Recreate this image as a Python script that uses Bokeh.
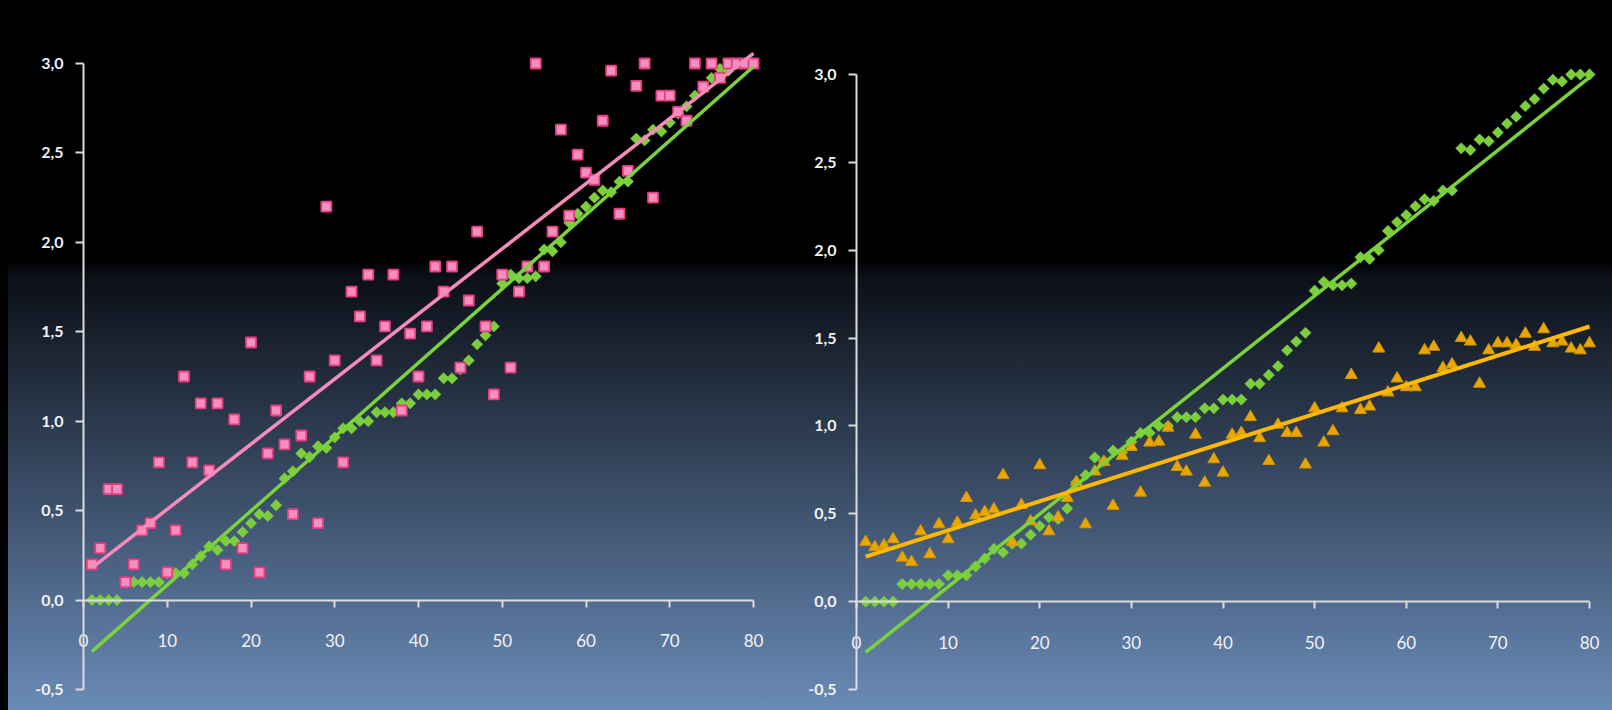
import numpy as np
from bokeh.plotting import figure
from bokeh.layouts import row
from bokeh.models import Range1d, FixedTicker
from bokeh.embed import file_html
from bokeh.resources import INLINE

# ---------------- data ----------------
x_values = list(range(1, 81))

green_values = [
    0.00, 0.00, 0.00, 0.00, 0.10, 0.10, 0.10, 0.10, 0.10, 0.15,
    0.15, 0.15, 0.20, 0.245, 0.30, 0.28, 0.33, 0.33, 0.38, 0.43,
    0.48, 0.47, 0.53, 0.68, 0.72, 0.82, 0.80, 0.86, 0.85, 0.91,
    0.96, 0.96, 1.00, 1.00, 1.05, 1.05, 1.05, 1.10, 1.10, 1.15,
    1.15, 1.15, 1.24, 1.24, 1.29, 1.34, 1.43, 1.48, 1.53, 1.77,
    1.82, 1.80, 1.80, 1.81, 1.96, 1.95, 2.00, 2.11, 2.16, 2.20,
    2.25, 2.29, 2.28, 2.34, 2.34, 2.58, 2.57, 2.63, 2.62, 2.67,
    2.72, 2.76, 2.82, 2.86, 2.92, 2.97, 2.96, 3.00, 3.00, 3.00,
]

pink_values = [
    0.20, 0.29, 0.62, 0.62, 0.10, 0.20, 0.39, 0.43, 0.77, 0.155,
    0.39, 1.25, 0.77, 1.10, 0.725, 1.10, 0.20, 1.01, 0.29, 1.44,
    0.155, 0.82, 1.06, 0.87, 0.48, 0.92, 1.25, 0.43, 2.20, 1.34,
    0.77, 1.725, 1.586, 1.82, 1.34, 1.53, 1.82, 1.06, 1.49, 1.25,
    1.53, 1.865, 1.725, 1.865, 1.30, 1.675, 2.06, 1.53, 1.15, 1.82,
    1.30, 1.725, 1.865, 3.00, 1.865, 2.06, 2.63, 2.15, 2.49, 2.39,
    2.35, 2.68, 2.96, 2.16, 2.40, 2.875, 3.00, 2.25, 2.82, 2.82,
    2.73, 2.68, 3.00, 2.87, 3.00, 2.92, 3.00, 3.00, 3.00, 3.00,
]

orange_values = [
    0.34, 0.31, 0.32, 0.355, 0.25, 0.226, 0.40, 0.27, 0.44, 0.355,
    0.45, 0.59, 0.49, 0.51, 0.525, 0.72, 0.34, 0.55, 0.457, 0.776,
    0.40, 0.48, 0.59, 0.68, 0.44, 0.74, 0.795, 0.545, 0.83, 0.88,
    0.62, 0.905, 0.91, 0.99, 0.766, 0.74, 0.95, 0.677, 0.81, 0.734,
    0.95, 0.96, 1.05, 0.93, 0.80, 1.007, 0.96, 0.96, 0.78, 1.10,
    0.905, 0.97, 1.10, 1.29, 1.09, 1.11, 1.44, 1.19, 1.27, 1.22,
    1.22, 1.43, 1.45, 1.33, 1.35, 1.50, 1.48, 1.24, 1.43, 1.47,
    1.47, 1.46, 1.525, 1.45, 1.55, 1.47, 1.48, 1.44, 1.43, 1.47,
]

x_ticks = [0, 10, 20, 30, 40, 50, 60, 70, 80]
x_tick_labels = ["0", "10", "20", "30", "40", "50", "60", "70", "80"]
y_ticks = [-0.5, 0.0, 0.5, 1.0, 1.5, 2.0, 2.5, 3.0]
y_tick_labels = ["-0,5", "0,0", "0,5", "1,0", "1,5", "2,0", "2,5", "3,0"]

# ---------------- styling ----------------
AXIS_COLOR = "#dcdcdc"
LABEL_COLOR = "#f2f2f2"
PINK_FILL, PINK_LINE, PINK_TREND = "#f68fbf", "#e63d80", "#f48bbb"
GREEN = "#7ccf3c"
GREEN_TREND = "#7ad33a"
ORANGE_FILL, ORANGE_LINE, ORANGE_TREND = "#e8a600", "#d69400", "#ffb800"

FIG_H = 702
FRAME_TOP, FRAME_BOTTOM = 40, 700  # frame edges in page pixels


def trend(xs, ys):
    k, b = np.polyfit(np.asarray(xs, float), np.asarray(ys, float), 1)
    xe = np.array([min(xs), max(xs)], float)
    return xe, k * xe + b


def make_fig(fig_left, fig_width, frame_left, frame_right, x0_px, x80_px, y3_px, ym05_px):
    """Layout: page pixel positions of the frame and of the axis extremes."""
    pxu = (x80_px - x0_px) / 80.0
    pyu = (ym05_px - y3_px) / 3.5
    xr = Range1d(-(x0_px - frame_left) / pxu, 80 + (frame_right - x80_px) / pxu)
    yr = Range1d(-0.5 - (FRAME_BOTTOM - ym05_px) / pyu, 3.0 + (y3_px - FRAME_TOP) / pyu)
    p = figure(
        width=fig_width, height=FIG_H, x_range=xr, y_range=yr,
        output_backend="svg", toolbar_location=None,
        min_border_left=frame_left - fig_left,
        min_border_right=fig_left + fig_width - frame_right,
        min_border_top=FRAME_TOP, min_border_bottom=FIG_H - FRAME_BOTTOM,
    )
    p.border_fill_color = None
    p.background_fill_color = None
    p.outline_line_color = None
    p.grid.visible = False

    xa = p.xaxis[0]
    xa.fixed_location = 0
    xa.bounds = (0, 80)
    xa.ticker = FixedTicker(ticks=x_ticks)
    xa.major_label_overrides = {t: l for t, l in zip(x_ticks, x_tick_labels)}
    xa.axis_line_color = AXIS_COLOR
    xa.axis_line_width = 2
    xa.major_tick_line_color = AXIS_COLOR
    xa.major_tick_line_width = 2
    xa.major_tick_in = 0
    xa.major_tick_out = 7
    xa.minor_tick_line_color = None
    xa.major_label_standoff = 27
    xa.major_label_text_color = LABEL_COLOR
    xa.major_label_text_font = "Lato"
    xa.major_label_text_font_size = "17px"

    ya = p.yaxis[0]
    ya.fixed_location = 0
    ya.bounds = (-0.5, 3.0)
    ya.ticker = FixedTicker(ticks=y_ticks)
    ya.major_label_overrides = {t: l for t, l in zip(y_ticks, y_tick_labels)}
    ya.axis_line_color = AXIS_COLOR
    ya.axis_line_width = 2
    ya.major_tick_line_color = AXIS_COLOR
    ya.major_tick_line_width = 2
    ya.major_tick_in = 0
    ya.major_tick_out = 8
    ya.minor_tick_line_color = None
    ya.major_label_standoff = 12
    ya.major_label_text_color = LABEL_COLOR
    ya.major_label_text_font = "Lato"
    ya.major_label_text_font_style = "bold"
    ya.major_label_text_font_size = "16px"
    return p


# ---------------- left panel ----------------
p1 = make_fig(0, 780, 12, 772, 83, 753, 63, 689)
p1.scatter(x_values, green_values, marker="square", angle=np.pi / 4, size=8,
           fill_color=GREEN, line_color=GREEN, line_width=0.5)
p1.scatter(x_values, pink_values, marker="square", size=10,
           fill_color=PINK_FILL, line_color=PINK_LINE, line_width=1.8)
gx, gy = trend(x_values, green_values)
p1.line(gx, gy, line_color=GREEN_TREND, line_width=3.5)
px, py = trend(x_values, pink_values)
p1.line(px, py, line_color=PINK_TREND, line_width=3.5)

# ---------------- right panel ----------------
p2 = make_fig(780, 824, 790, 1602, 856, 1589, 74, 689)
p2.scatter(x_values, green_values, marker="square", angle=np.pi / 4, size=8,
           fill_color=GREEN, line_color=GREEN, line_width=0.5)
p2.scatter(x_values, orange_values, marker="triangle", size=12,
           fill_color=ORANGE_FILL, line_color=ORANGE_LINE, line_width=1)
p2.line(gx, gy, line_color=GREEN_TREND, line_width=3.5)
ox, oy = trend(x_values, orange_values)
p2.line(ox, oy, line_color=ORANGE_TREND, line_width=4)

layout = row(p1, p2)

TEMPLATE = """
{% block postamble %}
<style>
html {
  background-color: #6a8bb8;
  background-image: linear-gradient(to right, #000 0px, #000 8px, transparent 8px),
                    linear-gradient(to bottom, #000 0px, #000 262px, #0b0f16 275px, #6a8bb8 710px);
  background-repeat: no-repeat;
  background-size: 100% 710px;
  min-height: 100%;
}
body { background: transparent; }
</style>
{% endblock %}
"""

open("out.html", "w").write(file_html(layout, INLINE, template=TEMPLATE))
